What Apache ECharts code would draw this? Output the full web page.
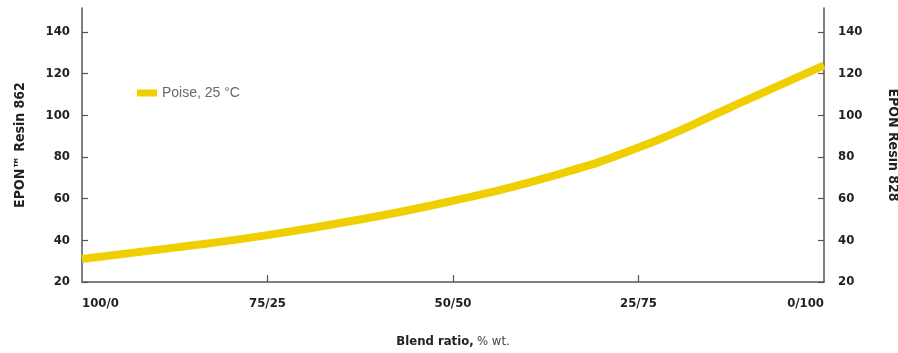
<!DOCTYPE html>
<html>
<head>
<meta charset="utf-8">
<script src="https://cdn.jsdelivr.net/npm/echarts@6/dist/echarts.min.js"></script>
<style>
  html, body { margin: 0; padding: 0; background: #fff; }
  #chart { width: 898px; height: 353px; }
</style>
</head>
<body>
<div id="chart"></div>
<script>
// Blend of EPON Resin 862 / EPON Resin 828, viscosity at 25 °C
const blendPercent828 = [0, 12.5, 25, 37.5, 50, 62.5, 75, 87.5, 100];
const poise25C = [31, 36.5, 42.5, 50, 59, 70, 84.5, 104, 124];

const ratioTickValues = [0, 25, 50, 75, 100];
const ratioTickLabels = ['100/0', '75/25', '50/50', '25/75', '0/100'];
const viscosityTicks = [20, 40, 60, 80, 100, 120, 140];

const narrowBold = "'Liberation Sans Narrow', 'DejaVu Sans Condensed', 'Arial Narrow', sans-serif";
const axisColor = '#555';
const lineColor = '#F0CF00';

const yAxisBase = {
  type: 'value',
  min: 20,
  max: 151.5,
  interval: 20,
  splitLine: { show: false },
  axisLine: { show: true, lineStyle: { color: axisColor, width: 1.5 } },
  axisTick: {
    show: true, inside: true, length: 6,
    customValues: viscosityTicks,
    lineStyle: { color: axisColor, width: 1.2 }
  },
  axisLabel: {
    customValues: viscosityTicks,
    margin: 12,
    color: '#222',
    fontFamily: narrowBold,
    fontWeight: 'bold',
    fontSize: 13
  },
  nameLocation: 'middle',
  nameTextStyle: {
    color: '#222',
    fontFamily: narrowBold,
    fontWeight: 'bold',
    fontSize: 14
  }
};

const chart = echarts.init(document.getElementById('chart'), null, { renderer: 'canvas' });
chart.setOption({
  animation: false,
  backgroundColor: '#fff',
  grid: { left: 82, right: 74, top: 8, bottom: 71, containLabel: false, outerBoundsMode: 'none' },
  legend: {
    left: 132,
    top: 81,
    itemWidth: 20,
    itemHeight: 7,
    itemGap: 4,
    icon: 'rect',
    textStyle: { color: '#6a6a6a', fontFamily: 'Liberation Sans, Arial, sans-serif', fontSize: 14 },
    data: ['Poise, 25 °C']
  },
  xAxis: {
    type: 'value',
    min: 0,
    max: 100,
    interval: 25,
    splitLine: { show: false },
    axisLine: { show: true, lineStyle: { color: axisColor, width: 1.5 } },
    axisTick: {
      show: true, inside: true, length: 7,
      customValues: [25, 50, 75],
      lineStyle: { color: axisColor, width: 1.2 }
    },
    axisLabel: {
      customValues: ratioTickValues,
      formatter: v => ratioTickLabels[ratioTickValues.indexOf(v)],
      alignMinLabel: 'left',
      alignMaxLabel: 'right',
      margin: 15,
      color: '#222',
      fontFamily: narrowBold,
      fontWeight: 'bold',
      fontSize: 13
    },
    name: '{b|Blend ratio,} {r|% wt.}',
    nameLocation: 'middle',
    nameGap: 53,
    nameTextStyle: {
      rich: {
        b: { color: '#222', fontFamily: narrowBold, fontWeight: 'bold', fontSize: 13 },
        r: { color: '#444', fontFamily: narrowBold, fontSize: 13 }
      }
    }
  },
  yAxis: [
    Object.assign({}, yAxisBase, {
      position: 'left',
      name: 'EPON™ Resin 862',
      nameRotate: 90,
      nameGap: 55
    }),
    Object.assign({}, yAxisBase, {
      position: 'right',
      name: 'EPON Resin 828',
      nameRotate: -90,
      nameGap: 62,
      axisLabel: Object.assign({}, yAxisBase.axisLabel, { margin: 14 })
    })
  ],
  series: [{
    name: 'Poise, 25 °C',
    type: 'line',
    smooth: true,
    showSymbol: false,
    color: lineColor,
    lineStyle: { color: lineColor, width: 8 },
    data: blendPercent828.map((x, i) => [x, poise25C[i]])
  }]
});
</script>
</body>
</html>
